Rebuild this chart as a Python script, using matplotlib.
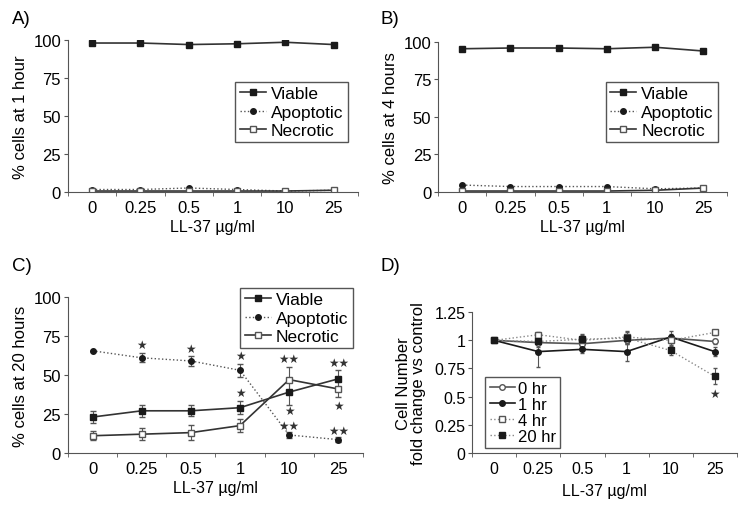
import numpy as np
import matplotlib.pyplot as plt

plt.rcParams['font.family'] = ['Liberation Sans', 'DejaVu Sans']
plt.rcParams['font.size'] = 12

doses = ['0', '0.25', '0.5', '1', '10', '25']

# panel A: 1 hour
a_viable = [98, 98, 97, 97.5, 98.5, 97]
a_apopt = [1.5, 1.5, 2.5, 1.5, 0.5, 1]
a_necro = [0.5, 0.5, 0.5, 0.5, 0.5, 1]

# panel B: 4 hours
b_viable = [95.5, 96, 96, 95.5, 96.5, 94]
b_apopt = [4.5, 3.5, 3.5, 3.5, 2, 2.5]
b_necro = [0.5, 0.5, 0.5, 0.5, 1, 2.5]

# panel C: 20 hours
c_viable = [23, 27, 27, 29, 39, 47.5]
c_viable_err = [4, 4, 3.5, 4, 8, 6]
c_apopt = [65.5, 61, 59, 53, 11.5, 8.5]
c_apopt_err = [0, 3, 3, 4, 2, 1.5]
c_necro = [11, 12, 13, 17.5, 47, 41]
c_necro_err = [3, 4, 5, 4, 8, 5]
c_stars = [(1, 69, '*'), (2, 67, '*'), (3, 62, '*'), (3, 38.5, '*'),
           (4, 60, '**'), (4, 27, '*'), (4, 17.5, '**'),
           (5, 58, '**'), (5, 30, '*'), (5, 14, '**')]

# panel D: fold change
d_labels = ['0 hr', '1 hr', '4 hr', '20 hr']
d_0hr = [1, 0.98, 0.97, 1.0, 1.02, 0.99]
d_0hr_err = [0, 0.02, 0.03, 0.03, 0.04, 0.02]
d_1hr = [1, 0.90, 0.92, 0.90, 1.03, 0.90]
d_1hr_err = [0, 0.14, 0.03, 0.08, 0.05, 0.04]
d_4hr = [1, 1.05, 1.0, 1.03, 1.0, 1.07]
d_4hr_err = [0, 0.02, 0.05, 0.05, 0.04, 0.02]
d_20hr = [1, 0.99, 1.01, 1.02, 0.91, 0.68]
d_20hr_err = [0, 0.05, 0.05, 0.05, 0.04, 0.07]

x = np.arange(len(doses))
dark = '#1a1a1a'
grey = '#555555'

fig = plt.figure(figsize=(7.39, 5.06), dpi=100)
axA = fig.add_axes([0.092, 0.619, 0.392, 0.300])
axB = fig.add_axes([0.593, 0.619, 0.391, 0.296])
axC = fig.add_axes([0.092, 0.103, 0.399, 0.308])
axD = fig.add_axes([0.639, 0.103, 0.358, 0.278])

leg_kw = dict(fancybox=False, edgecolor=grey, handlelength=1.5,
              handletextpad=0.3, borderpad=0.25, labelspacing=0.18,
              borderaxespad=0, framealpha=1)


def style(ax, ymax, yticks, yticklabels):
    ax.set_xlim(-0.5, 5.5)
    ax.set_ylim(0, ymax)
    ax.set_xticks(x)
    ax.set_xticklabels(doses)
    ax.set_xticks(np.arange(-0.5, 5.6, 1), minor=True)
    ax.tick_params(axis='x', which='major', length=0, pad=6)
    ax.tick_params(axis='x', which='minor', length=3, color=grey)
    ax.set_yticks(yticks)
    ax.set_yticklabels(yticklabels)
    ax.tick_params(axis='y', length=3, color=grey, pad=2)
    for s in ['top', 'right']:
        ax.spines[s].set_visible(False)
    for s in ['left', 'bottom']:
        ax.spines[s].set_color(grey)
    ax.set_xlabel('LL-37 \u00b5g/ml', fontsize=11.5, labelpad=3)


def three(ax, v, a, n, ve=None, ae=None, ne=None):
    kw = dict(capsize=2, elinewidth=0.8, ecolor=grey, ls='none')
    if ve is not None:
        ax.errorbar(x, v, yerr=ve, **kw)
        ax.errorbar(x, a, yerr=ae, **kw)
        ax.errorbar(x, n, yerr=ne, **kw)
    ax.plot(x, v, color='#333333', lw=1.2, marker='s', ms=5,
            mfc=dark, mec=dark, label='Viable')
    ax.plot(x, a, color=grey, lw=1, ls=':', marker='o', ms=4,
            mfc=dark, mec=dark, label='Apoptotic')
    ax.plot(x, n, color='#333333', lw=1.2, marker='s', ms=5,
            mfc='white', mec=grey, label='Necrotic')


yt = [0, 25, 50, 75, 100]
three(axA, a_viable, a_apopt, a_necro)
style(axA, 100, yt, [str(t) for t in yt])
axA.set_ylabel('% cells at 1 hour')
axA.legend(loc='upper right', bbox_to_anchor=(0.966, 0.724), fontsize=12.5, **leg_kw)

three(axB, b_viable, b_apopt, b_necro)
style(axB, 100, yt, [str(t) for t in yt])
axB.set_ylabel('% cells at 4 hours')
axB.legend(loc='upper right', bbox_to_anchor=(0.969, 0.733), fontsize=12.5, **leg_kw)

three(axC, c_viable, c_apopt, c_necro, c_viable_err, c_apopt_err, c_necro_err)
style(axC, 100, yt, [str(t) for t in yt])
axC.set_ylabel('% cells at 20 hours')
axC.legend(loc='upper right', bbox_to_anchor=(0.966, 1.058), fontsize=12.5, **leg_kw)
for xi, yi, s in c_stars:
    axC.text(xi, yi, s.replace('*', '\u2605'), ha='center', va='center',
             fontsize=8.5, color='#333333')

kw = dict(capsize=1.5, elinewidth=0.8, ecolor=grey, ls='none')
for vals, err in [(d_0hr, d_0hr_err), (d_1hr, d_1hr_err),
                  (d_4hr, d_4hr_err), (d_20hr, d_20hr_err)]:
    axD.errorbar(x, vals, yerr=err, **kw)
axD.plot(x, d_0hr, color=grey, lw=1.2, marker='o', ms=4,
         mfc='white', mec=grey, label=d_labels[0])
axD.plot(x, d_1hr, color=dark, lw=1.2, marker='o', ms=4,
         mfc=dark, mec=dark, label=d_labels[1])
axD.plot(x, d_4hr, color='#888888', lw=1, ls=':', marker='s', ms=5,
         mfc='white', mec=grey, label=d_labels[2])
axD.plot(x, d_20hr, color='#888888', lw=1, ls=':', marker='s', ms=5,
         mfc=dark, mec=dark, label=d_labels[3])
dt = [0, 0.25, 0.5, 0.75, 1, 1.25]
style(axD, 1.25, dt, ['0', '0.25', '0.5', '0.75', '1', '1.25'])
axD.tick_params(labelsize=11.5)
axD.set_ylabel('Cell Number\nfold change vs control', linespacing=0.95, labelpad=6)
axD.legend(loc='upper left', bbox_to_anchor=(0.05, 0.54), fontsize=12,
           **dict(leg_kw, labelspacing=0.05, handletextpad=0.2))
axD.text(5, 0.52, '\u2605', ha='center', va='center', fontsize=8.5, color='#333333')
axD.xaxis.labelpad = 5

panel_labels = [('A)', 0.016, 0.978), ('B)', 0.515, 0.978),
                ('C)', 0.016, 0.49), ('D)', 0.515, 0.49)]
for lab, px, py in panel_labels:
    fig.text(px, py, lab, fontsize=13.5, ha='left', va='top')

fig.savefig('out.png', dpi=100)
